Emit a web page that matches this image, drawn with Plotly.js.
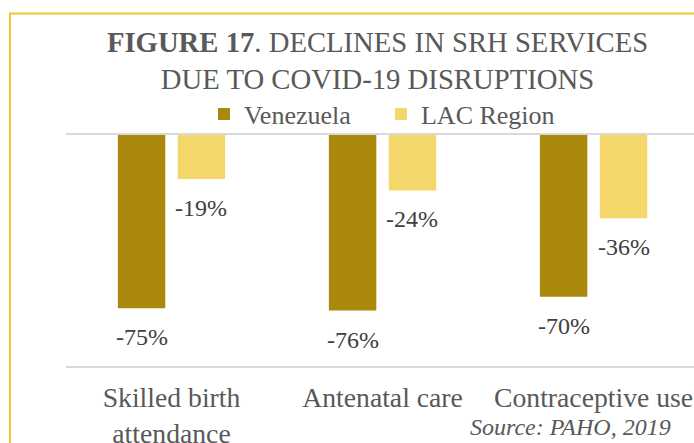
<!DOCTYPE html>
<html>
<head>
<meta charset="utf-8">
<script src="https://cdn.plot.ly/plotly-3.0.1.min.js"></script>
<style>
  html, body { margin: 0; padding: 0; background: #ffffff; }
  #chart { width: 694px; height: 443px; }
</style>
</head>
<body>
<div id="chart"></div>
<script>
const categories = ["Skilled birth<br>attendance", "Antenatal care", "Contraceptive use"];
const seriesNames = ["Venezuela", "LAC Region"];
const venezuela = [-75, -76, -70];
const lacRegion = [-19, -24, -36];
const titleText = "<b>FIGURE 17</b>. DECLINES IN SRH SERVICES<br>DUE TO COVID-19 DISRUPTIONS";
const sourceText = "Source: PAHO, 2019";

const FONT = "Liberation Serif, Times New Roman, serif";
const TXT = "#595959";
const colors = ["#AA880B", "#F3D76B"];
const barWidth = 0.2247;
const offsets = [-0.2543, 0.0296];

const seriesValues = [venezuela, lacRegion];
const traces = seriesValues.map((vals, i) => ({
  type: "bar",
  name: seriesNames[i],
  x: categories,
  y: vals,
  width: barWidth,
  offset: offsets[i],
  marker: { color: colors[i], line: { width: 0 } },
  hoverinfo: "none"
}));

const annotations = [];
seriesValues.forEach((vals, i) => {
  vals.forEach((v, j) => {
    annotations.push({
      x: j + offsets[i] + barWidth / 2,
      y: v,
      xref: "x", yref: "y",
      text: v + "%",
      showarrow: false,
      yshift: -29,
      xanchor: "center", yanchor: "middle",
      font: { family: FONT, size: 24, color: "#404040" }
    });
  });
});
annotations.push({
  xref: "paper", yref: "paper",
  x: 0.9666, y: -0.264,
  xanchor: "right", yanchor: "middle",
  text: "<i>" + sourceText + "</i>",
  showarrow: false,
  font: { family: FONT, size: 24, color: TXT }
});

const layout = {
  width: 694, height: 443,
  margin: { l: 66, r: 0, t: 135, b: 77, pad: 0 },
  paper_bgcolor: "#ffffff",
  plot_bgcolor: "#ffffff",
  barmode: "overlay",
  title: {
    text: titleText,
    xref: "container", yref: "container",
    x: 377.5 / 694, xanchor: "center",
    y: 1 - 52 / 443, yanchor: "middle",
    font: { family: FONT, size: 28.7, color: TXT }
  },
  showlegend: true,
  legend: {
    orientation: "h",
    xref: "paper", yref: "paper",
    x: 0.2197, xanchor: "left",
    y: 1.091, yanchor: "middle",
    font: { family: FONT, size: 26, color: TXT },
    bgcolor: "rgba(0,0,0,0)",
    entrywidth: 132, entrywidthmode: "pixels",
    traceorder: "normal"
  },
  xaxis: {
    type: "category",
    range: [-0.5, 2.476],
    showline: true, mirror: true,
    linecolor: "#D9D9D9", linewidth: 2,
    showgrid: false, zeroline: false,
    ticks: "", ticklabelstandoff: 6,
    tickfont: { family: FONT, size: 27.7, color: TXT },
    automargin: false,
    fixedrange: true
  },
  yaxis: {
    range: [-100, 0],
    showgrid: false, zeroline: false,
    showticklabels: false, ticks: "",
    automargin: false,
    fixedrange: true
  },
  shapes: [{
    type: "rect", xref: "paper", yref: "paper",
    x0: (10 - 66) / 628, x1: 1.2,
    y0: -1, y1: (366 - 13.5) / 231,
    line: { color: "#EFC531", width: 2 },
    fillcolor: "rgba(0,0,0,0)",
    layer: "above"
  }],
  annotations: annotations
};

Plotly.newPlot("chart", traces, layout, { displayModeBar: false, staticPlot: true });
</script>
</body>
</html>
